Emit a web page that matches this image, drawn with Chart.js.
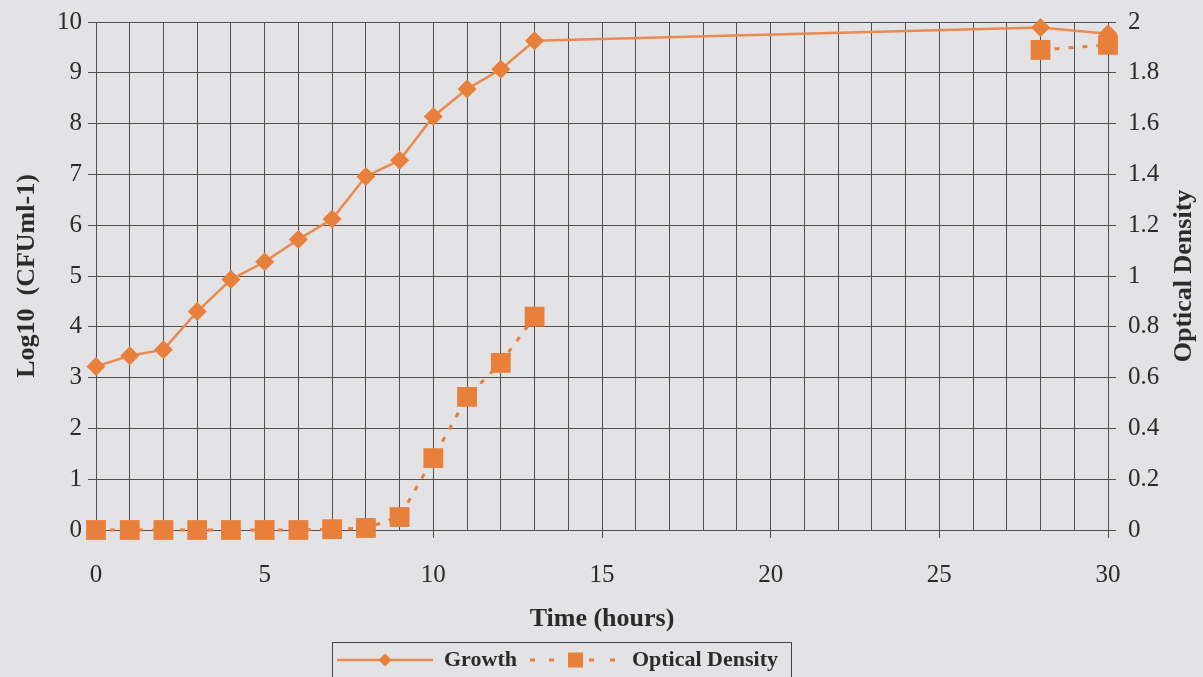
<!DOCTYPE html>
<html>
<head>
<meta charset="utf-8">
<script src="https://cdn.jsdelivr.net/npm/chart.js@4.4.1/dist/chart.umd.min.js"></script>
<style>
  html, body { margin: 0; padding: 0; background: #e3e2e4; }
  #wrap { width: 1203px; height: 677px; position: relative; }
</style>
</head>
<body>
<div id="wrap"><canvas id="c" width="1203" height="677"></canvas></div>
<script>
// ---- data ----
const timesHours = [0, 1, 2, 3, 4, 5, 6, 7, 8, 9, 10, 11, 12, 13, 28, 30];
const growthLog10 = [3.22, 3.43, 3.55, 4.3, 4.93, 5.28, 5.72, 6.12, 6.96, 7.28, 8.14, 8.68, 9.07, 9.63, 9.89, 9.77];
const opticalDensity = [0, 0, 0, 0, 0, 0, 0, 0.003, 0.008, 0.051, 0.283, 0.524, 0.658, 0.84, 1.89, 1.91];
const seriesNames = ['Growth', 'Optical Density'];
const xTitle = 'Time (hours)';
const leftTitle = 'Log10  (CFUml-1)';
const rightTitle = 'Optical Density';

const ORANGE = '#E8803C';
const LINE = '#EA8A50';
const GRID = '#505050';
const TEXT = '#2b2b2b';
const SERIF = '"Liberation Serif", "Times New Roman", serif';

function pts(ys) { return timesHours.map((t, i) => ({ x: t, y: ys[i] })); }

// legend sample images
function growthImg() {
  const c = document.createElement('canvas'); c.width = 96; c.height = 16;
  const g = c.getContext('2d');
  g.strokeStyle = LINE; g.lineWidth = 2.5;
  g.beginPath(); g.moveTo(0, 8); g.lineTo(96, 8); g.stroke();
  g.fillStyle = ORANGE; g.beginPath();
  g.moveTo(48, 1.5); g.lineTo(54.5, 8); g.lineTo(48, 14.5); g.lineTo(41.5, 8); g.closePath(); g.fill();
  return c;
}
function odImg() {
  const c = document.createElement('canvas'); c.width = 96; c.height = 18;
  const g = c.getContext('2d');
  g.strokeStyle = ORANGE; g.lineWidth = 3;
  [[5, 10], [24, 29], [64, 69], [85, 90]].forEach(([a, b]) => { g.beginPath(); g.moveTo(a, 9); g.lineTo(b, 9); g.stroke(); });
  g.fillStyle = ORANGE; g.fillRect(43, 1.5, 15, 15);
  return c;
}
const legendImgs = [growthImg(), odImg()];

const LEGEND_SHIFT_X = -44;
const LEGEND_SHIFT_Y = 4;

const legendTweak = {
  id: 'legendTweak',
  afterUpdate(chart) {
    const lg = chart.legend;
    lg.left += LEGEND_SHIFT_X; lg.right += LEGEND_SHIFT_X;
    lg.top += LEGEND_SHIFT_Y; lg.bottom += LEGEND_SHIFT_Y;
  },
  afterDraw(chart) {
    const lg = chart.legend;
    const pad = lg.options.labels.padding;
    const lw = lg.lineWidths[0];
    const start = (lg.left + pad + lg.right - lw) / 2;
    const ctx = chart.ctx;
    ctx.save();
    ctx.strokeStyle = '#444'; ctx.lineWidth = 1;
    ctx.strokeRect(Math.round(start - 5) + 0.5, Math.round(lg.top + 1) + 0.5, Math.round(lw + 10), 60);
    // right axis title (reads bottom-to-top)
    const ca = chart.chartArea;
    ctx.translate(1184, (ca.top + ca.bottom) / 2);
    ctx.rotate(-Math.PI / 2);
    ctx.fillStyle = TEXT;
    ctx.font = 'bold 26px ' + SERIF;
    ctx.textAlign = 'center'; ctx.textBaseline = 'middle';
    ctx.fillText(rightTitle, 0, 0);
    ctx.restore();
  }
};

function fixY(width) {
  return s => { s.width = width; s.paddingTop = 0; s.paddingBottom = 0; };
}

new Chart(document.getElementById('c'), {
  type: 'line',
  data: {
    datasets: [
      {
        label: seriesNames[0], data: pts(growthLog10), yAxisID: 'y',
        borderColor: LINE, borderWidth: 2.5, backgroundColor: ORANGE,
        pointStyle: 'rectRot', pointRadius: 9.5, pointBorderWidth: 0,
        pointBackgroundColor: ORANGE, clip: false, order: 1
      },
      {
        label: seriesNames[1], data: pts(opticalDensity), yAxisID: 'y1',
        borderColor: ORANGE, borderWidth: 3, borderDash: [5, 9], backgroundColor: ORANGE,
        pointStyle: 'rect', pointRadius: 14, pointBorderWidth: 0,
        pointBackgroundColor: ORANGE, clip: false, order: 0,
        segment: {
          borderColor: ctx => (ctx.p1.parsed.x - ctx.p0.parsed.x > 5 ? 'rgba(0,0,0,0)' : ORANGE)
        }
      }
    ]
  },
  options: {
    responsive: false,
    animation: false,
    layout: { padding: { top: 22, left: 0, right: 0, bottom: 0 } },
    plugins: {
      tooltip: { enabled: false },
      legend: {
        position: 'bottom',
        labels: {
          usePointStyle: true, pointStyleWidth: 96, padding: 8,
          color: TEXT, font: { family: SERIF, size: 22, weight: 'bold' },
          sort: (a, b) => a.datasetIndex - b.datasetIndex,
          generateLabels(chart) {
            const items = Chart.defaults.plugins.legend.labels.generateLabels(chart);
            items.forEach(it => { it.pointStyle = legendImgs[it.datasetIndex]; });
            return items;
          }
        }
      }
    },
    scales: {
      x: {
        type: 'linear', min: 0, max: 30,
        afterFit: s => { s.height = 107; },
        ticks: {
          stepSize: 1, autoSkip: false, maxRotation: 0, padding: 22,
          color: TEXT, font: { family: SERIF, size: 25 },
          callback: v => (v % 5 === 0 ? v : '')
        },
        grid: {
          color: GRID, lineWidth: 1, tickLength: 8,
          tickColor: ctx => (ctx.tick && ctx.tick.value % 5 === 0 ? GRID : 'rgba(0,0,0,0)')
        },
        border: { color: GRID, width: 1 },
        title: {
          display: true, text: xTitle, color: TEXT,
          font: { family: SERIF, size: 26, weight: 'bold' },
          padding: { top: 0, bottom: 2 }
        }
      },
      y: {
        position: 'left', min: 0, max: 10,
        afterFit: fixY(96),
        ticks: { stepSize: 1, padding: 6, color: TEXT, font: { family: SERIF, size: 25 } },
        grid: { color: GRID, lineWidth: 1, tickLength: 8 },
        border: { color: GRID, width: 1 },
        title: {
          display: true, text: leftTitle, color: TEXT,
          font: { family: SERIF, size: 26, weight: 'bold' },
          padding: { top: 12, bottom: 0 }
        }
      },
      y1: {
        position: 'right', min: 0, max: 2,
        afterFit: fixY(95),
        ticks: {
          stepSize: 0.2, padding: 12, color: TEXT, font: { family: SERIF, size: 25 },
          callback: v => String(+v.toFixed(1))
        },
        grid: { drawOnChartArea: false, color: GRID, lineWidth: 1, tickLength: 8 },
        border: { color: GRID, width: 1 }
      }
    }
  },
  plugins: [legendTweak]
});
</script>
</body>
</html>
